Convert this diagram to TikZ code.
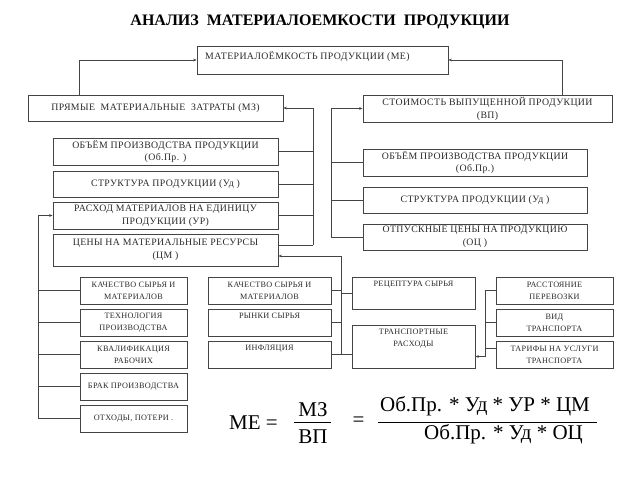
\documentclass[tikz,border=0pt]{standalone}
\usepackage{fontspec}
\setmainfont{Liberation Serif}
\newfontfamily\boxfont[LetterSpace=4]{Liberation Serif}
\usetikzlibrary{calc,arrows.meta}
\definecolor{linegray}{HTML}{444444}
\definecolor{txtgray}{HTML}{2A2A2A}
\newcommand{\bigtxt}{\boxfont\fontsize{9.8}{12.8}\selectfont}
\newcommand{\smtxt}{\boxfont\fontsize{8.2}{11.8}\selectfont}
\begin{document}
\begin{tikzpicture}[x=1pt,y=-1pt,
  box/.style={draw=linegray,line width=0.85pt,inner sep=1pt,align=center,text=txtgray,font=\bigtxt},
  sbox/.style={box,font=\smtxt},
  txt/.style={inner sep=0pt,align=center,text=txtgray,font=\smtxt},
  ln/.style={draw=linegray,line width=0.85pt},
  arr/.style={ln,-{Stealth[length=3.5pt,width=2.8pt]}},
  fml/.style={inner sep=0pt,font=\fontsize{21}{23}\selectfont,text=black}]
\useasboundingbox (0,0) rectangle (640,480);
\fill[white] (0,0) rectangle (640,480);
% title
\node[inner sep=0pt,font=\fontsize{16}{18}\selectfont\bfseries] (title) at (320,22) {АНАЛИЗ\ \ МАТЕРИАЛОЕМКОСТИ\ \ ПРОДУКЦИИ};
% top level
\node[box,minimum width=251,minimum height=28] (me) at (322.5,60) {};
\node[txt,font=\bigtxt,anchor=west] (me-t) at (205,57) {МАТЕРИАЛОЁМКОСТЬ ПРОДУКЦИИ (МЕ)};
\node[box,minimum width=255,minimum height=26] (mz) at (155.5,108) {ПРЯМЫЕ\ \ МАТЕРИАЛЬНЫЕ\ \ ЗАТРАТЫ (МЗ)};
\node[box,minimum width=249,minimum height=27] (vp) at (487.5,108.5) {СТОИМОСТЬ ВЫПУЩЕННОЙ ПРОДУКЦИИ\\(ВП)};
% left column
\node[box,minimum width=225,minimum height=27] (lob) at (165.5,151.5) {ОБЪЁМ ПРОИЗВОДСТВА ПРОДУКЦИИ\\(Об.Пр. )};
\node[box,minimum width=225,minimum height=26] (lst) at (165.5,184) {СТРУКТУРА ПРОДУКЦИИ (Уд )};
\node[box,minimum width=225,minimum height=27] (lra) at (165.5,215.5) {РАСХОД МАТЕРИАЛОВ НА ЕДИНИЦУ\\ПРОДУКЦИИ (УР)};
\node[box,minimum width=225,minimum height=32] (lce) at (165.5,250) {ЦЕНЫ НА МАТЕРИАЛЬНЫЕ РЕСУРСЫ\\(ЦМ )};
% right column
\node[box,minimum width=224,minimum height=27] (rob) at (475,162.5) {ОБЪЁМ ПРОИЗВОДСТВА ПРОДУКЦИИ\\(Об.Пр.)};
\node[box,minimum width=224,minimum height=26] (rst) at (475,200) {СТРУКТУРА ПРОДУКЦИИ (Уд )};
\node[box,minimum width=224,minimum height=26] (rot) at (475,237) {ОТПУСКНЫЕ ЦЕНЫ НА ПРОДУКЦИЮ\\(ОЦ )};
% small left boxes
\node[sbox,minimum width=107,minimum height=27] (k1) at (133.5,290.5) {КАЧЕСТВО СЫРЬЯ И\\МАТЕРИАЛОВ};
\node[sbox,minimum width=107,minimum height=27] (k2) at (133.5,322.5) {ТЕХНОЛОГИЯ\\ПРОИЗВОДСТВА};
\node[sbox,minimum width=107,minimum height=27] (k3) at (133.5,354.5) {КВАЛИФИКАЦИЯ\\РАБОЧИХ};
\node[sbox,minimum width=107,minimum height=27] (k4) at (133.5,386.5) {БРАК ПРОИЗВОДСТВА};
\node[sbox,minimum width=107,minimum height=27] (k5) at (133.5,418.5) {ОТХОДЫ, ПОТЕРИ .};
% middle boxes
\node[sbox,minimum width=123,minimum height=27] (mq) at (269.5,290.5) {КАЧЕСТВО СЫРЬЯ И\\МАТЕРИАЛОВ};
\node[sbox,minimum width=123,minimum height=27] (mr) at (269.5,322.5) {};
\node[txt,anchor=north] (mr-t) at ($(mr.north)+(0,4.5)$) {РЫНКИ СЫРЬЯ};
\node[sbox,minimum width=123,minimum height=27] (mi) at (269.5,354.5) {};
\node[txt,anchor=north] (mi-t) at ($(mi.north)+(0,4.5)$) {ИНФЛЯЦИЯ};
\node[sbox,minimum width=123,minimum height=32] (rec) at (413.5,293) {};
\node[txt,anchor=north] (rec-t) at ($(rec.north)+(0,4.5)$) {РЕЦЕПТУРА СЫРЬЯ};
\node[sbox,minimum width=123,minimum height=43] (tra) at (413.5,346.5) {};
\node[txt,anchor=north] (tra-t) at ($(tra.north)+(0,4.5)$) {ТРАНСПОРТНЫЕ\\РАСХОДЫ};
% right small boxes
\node[sbox,minimum width=117,minimum height=27] (ra) at (554.5,290.5) {РАССТОЯНИЕ\\ПЕРЕВОЗКИ};
\node[sbox,minimum width=117,minimum height=27] (rv) at (554.5,322.5) {ВИД\\ТРАНСПОРТА};
\node[sbox,minimum width=117,minimum height=27] (rt) at (554.5,354.5) {ТАРИФЫ НА УСЛУГИ\\ТРАНСПОРТА};
% bracket coordinates
\coordinate (bL) at (313,0);
\coordinate (bR) at (331,0);
\coordinate (bM) at (341,0);
\coordinate (bT) at (485,0);
\coordinate (bB) at (38,0);
% top connectors
\draw[arr] ($(mz.north west)+(52,0)$) |- (me.west);
\draw[arr] ($(vp.north east)+(-50,0)$) |- (me.east);
% left bracket
\coordinate (lceb) at ($(lce.east)+(0,-5)$);
\draw[ln] (lob.east) -- (lob.east -| bL);
\draw[ln] (lst.east) -- (lst.east -| bL);
\draw[ln] (lra.east) -- (lra.east -| bL);
\draw[ln] (lceb) -- (lceb -| bL);
\draw[arr] (lceb -| bL) |- (mz.east);
% right bracket
\draw[ln] (rob.west) -- (rob.west -| bR);
\draw[ln] (rst.west) -- (rst.west -| bR);
\draw[ln] (rot.west) -- (rot.west -| bR);
\draw[arr] (rot.west -| bR) |- (vp.west);
% middle bracket
\coordinate (lcea) at ($(lce.east)+(0,6)$);
\draw[ln] (mq.east) -- (mq.east -| bM);
\draw[ln] (mr.east) -- (mr.east -| bM);
\draw[ln] (mi.east) -- (mi.east -| tra.west);
\draw[ln] (rec.west) -- (rec.west -| bM);
\draw[arr] (mi.east -| bM) |- (lcea);
% transport bracket
\coordinate (rtb) at ($(rt.west)+(0,-6)$);
\coordinate (traa) at ($(tra.east)+(0,10)$);
\draw[ln] (ra.west) -- (ra.west -| bT);
\draw[ln] (rv.west) -- (rv.west -| bT);
\draw[ln] (rtb) -- (rtb -| bT);
\draw[arr] (ra.west -| bT) |- (traa);
% left bottom bracket
\draw[ln] (k1.west) -- (k1.west -| bB);
\draw[ln] (k2.west) -- (k2.west -| bB);
\draw[ln] (k3.west) -- (k3.west -| bB);
\draw[ln] (k4.west) -- (k4.west -| bB);
\draw[ln] (k5.west) -- (k5.west -| bB);
\draw[arr] (k5.west -| bB) |- (lra.west);
% formula
\node[fml,anchor=west] (fme) at (229,423) {МЕ =};
\node[fml] (fmz) at (313,410) {МЗ};
\node[fml] (fvp) at (313,437) {ВП};
\coordinate (fb1a) at (294,422);
\coordinate (fb1b) at (331,422);
\draw[line width=0.7pt] (fb1a) -- (fb1b);
\node[fml] (feq) at (358.5,422) {=};
\node[fml] (fnum) at (485,406) {Об.Пр. * Уд * УР * ЦМ};
\node[fml] (fden) at (503.5,434) {Об.Пр. * Уд * ОЦ};
\coordinate (fb2a) at (378,422);
\coordinate (fb2b) at (597,422);
\draw[line width=0.7pt] (fb2a) -- (fb2b);
\end{tikzpicture}
\end{document}
